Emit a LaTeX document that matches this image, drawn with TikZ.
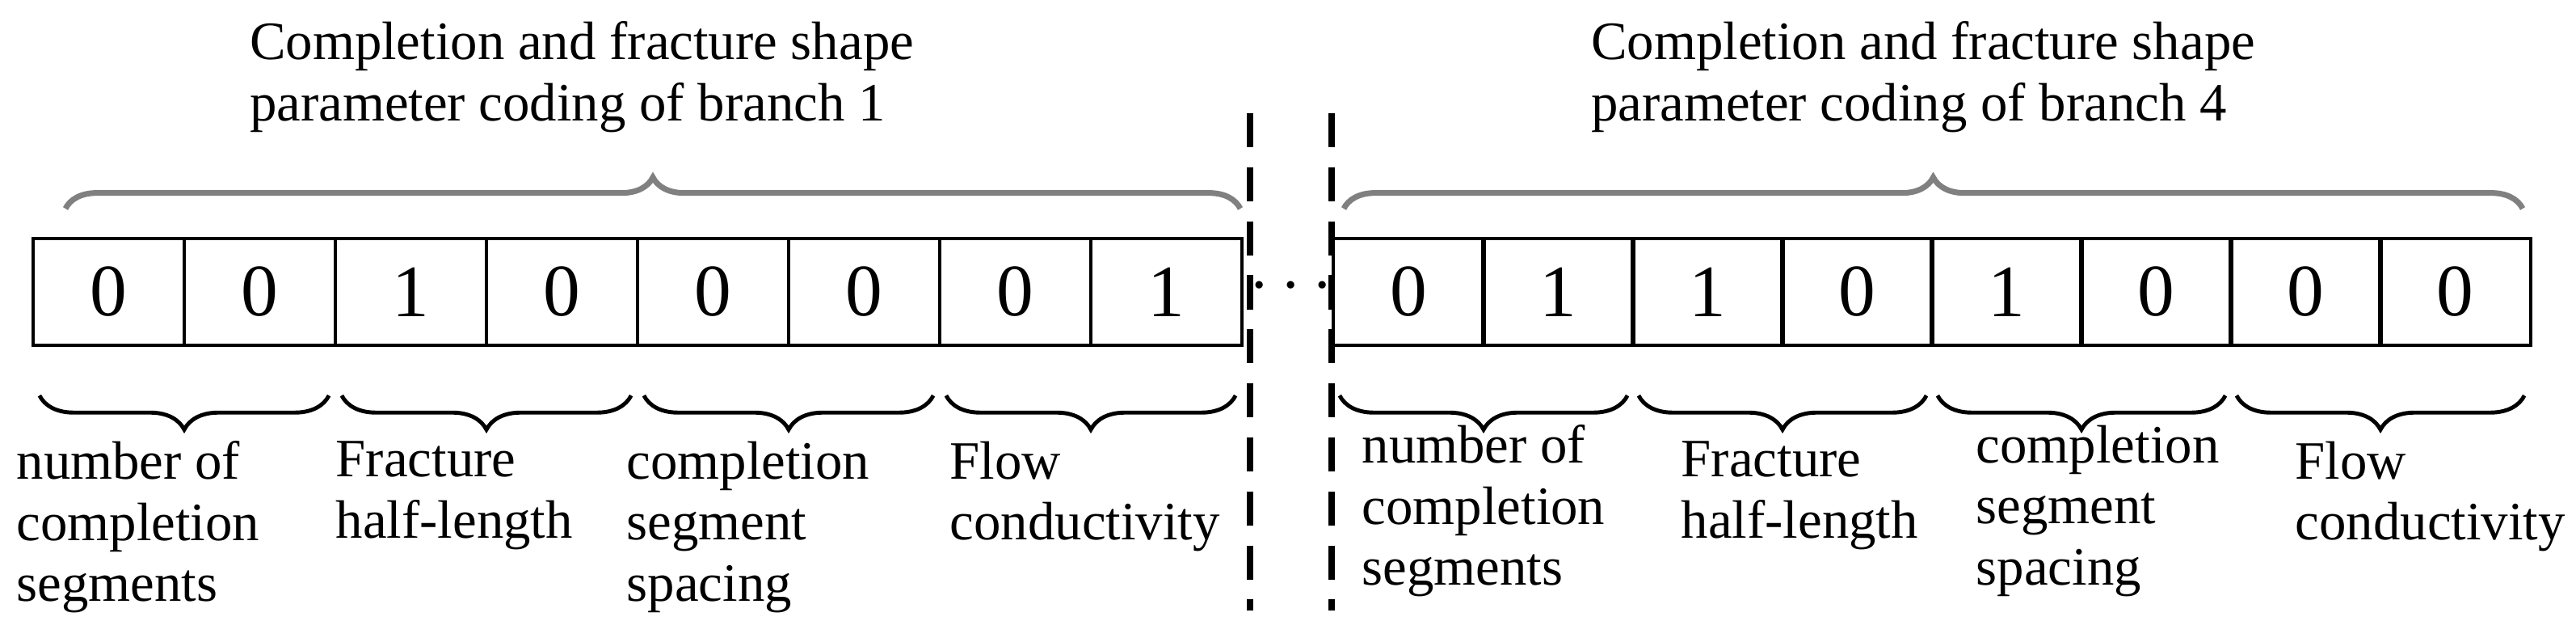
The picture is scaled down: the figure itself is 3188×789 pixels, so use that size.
\documentclass[tikz,border=0pt]{standalone}
\usepackage{fontspec}
\setmainfont{Liberation Serif}
\usetikzlibrary{decorations.pathreplacing}
\begin{document}
\begin{tikzpicture}[x=0.01cm,y=-0.01cm,
  cell/.style={draw,line width=1.2pt,minimum width=187*0.01cm,minimum height=132*0.01cm,inner sep=0pt,font=\fontsize{26}{26}\selectfont},
  lab/.style={anchor=north west,align=left,inner sep=0pt,font=\fontsize{19}{21.5}\selectfont},
  ttl/.style={align=left,inner sep=0pt,font=\fontsize{19}{21.5}\selectfont},
  topbrace/.style={draw=gray,line width=2pt,decorate,decoration={brace,amplitude=11pt}},
  botbrace/.style={draw,line width=1.4pt,decorate,decoration={brace,mirror,amplitude=12pt}},
  sepline/.style={line width=2.5pt,dash pattern=on 12pt off 7pt}]
\useasboundingbox (0,0) rectangle (3188,789);
\foreach \v [count=\i from 0] in {0,0,1,0,0,0,0,1}{
  \node[cell] (L\i) at ({41+187*\i+93.5},361) {\v};}
\foreach \v [count=\i from 0] in {0,1,1,0,1,0,0,0}{
  \node[cell] (R\i) at ({1651+185*\i+92.5},361) {\v};}
\node[ttl] (t1) at (720,95) {Completion and fracture shape\\parameter coding of branch 1};
\node[ttl] (t4) at (2380,95) {Completion and fracture shape\\parameter coding of branch 4};
\draw[topbrace] (81,258) -- (1535,258);
\draw[topbrace] (1663,258) -- (3122,258);
\foreach \a/\b in {0/1,2/3,4/5,6/7}{
  \draw[botbrace] ([xshift=0.1cm,yshift=-0.6cm]L\a.south west) -- ([xshift=-0.1cm,yshift=-0.6cm]L\b.south east);
  \draw[botbrace] ([xshift=0.1cm,yshift=-0.6cm]R\a.south west) -- ([xshift=-0.1cm,yshift=-0.6cm]R\b.south east);}
\coordinate (d1a) at (1547,140); \coordinate (d1b) at (1547,755);
\coordinate (d2a) at (1648,140); \coordinate (d2b) at (1648,755);
\draw[sepline] (d1a) -- (d1b);
\draw[sepline] (d2a) -- (d2b);
\node[font=\fontsize{30}{30}\selectfont,inner sep=0pt] (dots) at (1598,355) {$\cdots$};
\node[lab] (a1) at (20,545) {number of\\completion\\segments};
\node[lab] (a2) at (415,545) {Fracture\\half-length};
\node[lab] (a3) at (775,545) {completion\\segment\\spacing};
\node[lab] (a4) at (1175,545) {Flow\\conductivity};
\node[lab] (b1) at (1685,525) {number of\\completion\\segments};
\node[lab] (b2) at (2080,545) {Fracture\\half-length};
\node[lab] (b3) at (2445,525) {completion\\segment\\spacing};
\node[lab] (b4) at (2840,545) {Flow\\conductivity};
\end{tikzpicture}
\end{document}
